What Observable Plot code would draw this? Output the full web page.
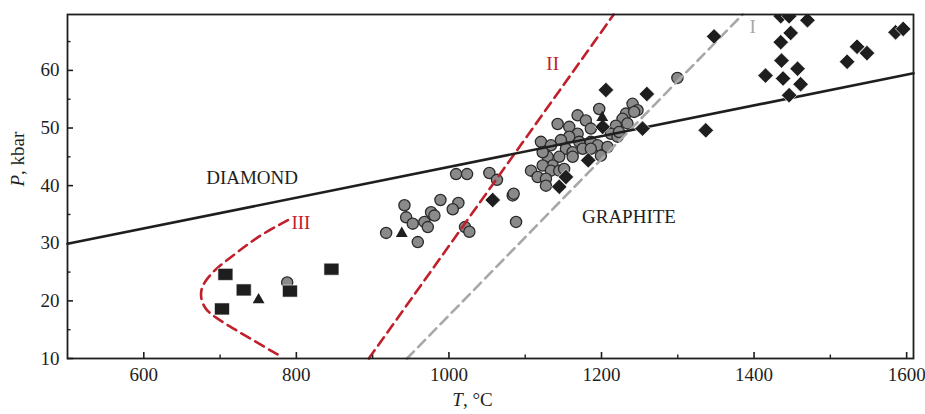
<!DOCTYPE html>
<html>
<head>
<meta charset="utf-8">
<script src="https://cdn.jsdelivr.net/npm/d3@7"></script>
<script src="https://cdn.jsdelivr.net/npm/@observablehq/plot@0.6"></script>
<style>
  html, body { margin: 0; padding: 0; background: #fff; }
  svg { font-family: "Liberation Serif", "DejaVu Serif", serif; }
</style>
</head>
<body>
<div id="chart"></div>
<script>
// ---- data ----
const xMajorTicks = [600, 800, 1000, 1200, 1400, 1600];
const xMinorTicks = [700, 900, 1100, 1300, 1500];
const yMajorTicks = [10, 20, 30, 40, 50, 60];
const yMinorTicks = [15, 25, 35, 45, 55, 65];

// diamond-graphite equilibrium line
const eqT = [500, 1609];
const eqP = [29.9, 59.5];

// dashed line I (grey)
const lineIT = [945, 1385];
const lineIP = [10, 69.7];
// dashed line II (red)
const lineIIT = [895, 1216];
const lineIIP = [10, 69.7];
// dashed curve III (red)
const curveIIIT = [789, 762.8, 736.6, 714.7, 697.3, 684.2, 675.5, 674.2, 679.8, 692.9, 714.7, 736.6, 758.3, 778];
const curveIIIP = [34, 32.2, 29.9, 27.6, 25.9, 24.1, 22.4, 20.6, 18.6, 17.2, 15.4, 13.7, 12, 10.5];

// grey circles
const circleT = [788, 1299.5,
  917.7, 941.7, 943.9, 952.6, 959.2, 988.9, 976.6, 981, 967.9, 972.3, 1012.4, 1005, 1021.1, 1026.8,
  1009.4, 1023.8, 1053, 1063, 1083.6, 1088, 1084.9,
  1197, 1168.7, 1179.5, 1142.5, 1157.7, 1186, 1240.7, 1247.2, 1232, 1227.6, 1218.9, 1212.3, 1221,
  1168.7, 1157.7, 1146.8, 1120.6, 1133.7, 1170.8, 1186, 1194.9, 1207.9, 1153.4, 1162.2, 1175.3, 1186,
  1144.6, 1129.4, 1136, 1162.2, 1122.9, 1122.9, 1133.7, 1107.6, 1116.3, 1127.2, 1127.2, 1144.6, 1151, 1199.2,
  1242.8, 1234, 1223];
const circleP = [23.2, 58.7,
  31.8, 36.6, 34.5, 33.4, 30.2, 37.5, 35.4, 34.8, 33.7, 32.8, 37, 35.9, 32.8, 32,
  42, 42, 42.2, 41, 38.3, 33.7, 38.6,
  53.3, 52.2, 51.3, 50.7, 50.2, 49.9, 54.2, 53.1, 52.5, 51.6, 50.4, 49, 48.5,
  49, 48.5, 47.9, 47.6, 47, 47.6, 47.6, 47, 46.7, 46.4, 45.8, 46.4, 46.4,
  45, 45, 43.5, 45, 45.8, 43.5, 42.6, 42.6, 41.5, 41.2, 40, 42.6, 42.9, 45.2,
  52.8, 50.8, 49.3];

// black diamonds
const diamondT = [1057.4, 1144.6, 1153.4, 1182.6, 1201.5, 1205.8, 1253.8, 1259.5, 1336.7, 1347.6,
  1415, 1435, 1436, 1438, 1446, 1448, 1457, 1461, 1435, 1446, 1470,
  1522, 1535, 1548, 1585.5, 1595.5];
const diamondP = [37.5, 39.8, 41.5, 44.4, 50.2, 56.6, 49.9, 55.9, 49.6, 65.9,
  59.1, 64.9, 61.7, 58.6, 55.7, 66.5, 60.3, 57.6, 69.4, 69.4, 68.7,
  61.5, 64.1, 63, 66.6, 67.2];

// black squares
const squareT = [707, 731, 702.5, 791.6, 846];
const squareP = [24.6, 21.9, 18.6, 21.7, 25.5];

// black triangles
const triangleT = [750.5, 938.2, 1201];
const triangleP = [20.2, 31.7, 51.8];

// annotations
const labelText = ["DIAMOND", "GRAPHITE"];
const labelT = [742, 1236];
const labelP = [41.4, 34.5];
const lineLabels = ["I", "II", "III"];
const lineLabelT = [1398, 1136, 806];
const lineLabelP = [67.5, 61.1, 33.6];

// ---- build rows ----
const zip = (a, b) => a.map((v, i) => ({T: v, P: b[i]}));
const eq = zip(eqT, eqP);
const lI = zip(lineIT, lineIP);
const lII = zip(lineIIT, lineIIP);
const cIII = zip(curveIIIT, curveIIIP);
const circles = zip(circleT, circleP);
const diamonds = zip(diamondT, diamondP);
const squares = zip(squareT, squareP);
const triangles = zip(triangleT, triangleP);
const labels = labelText.map((t, i) => ({t, T: labelT[i], P: labelP[i]}));
const lineLbls = lineLabels.map((t, i) => ({t, T: lineLabelT[i], P: lineLabelP[i]}));

const RED = "#c0202c";
const GREY = "#a8a8a8";
const INK = "#1e1e1e";
const FS = 19;
const fmt = d3.format("d");

const wideSquare = {
  draw(context, size) {
    const w = 7.5, h = 6;
    context.rect(-w, -h, 2 * w, 2 * h);
  }
};

const chart = Plot.plot({
  width: 925,
  height: 414,
  marginLeft: 67,
  marginRight: 12,
  marginTop: 14,
  marginBottom: 56,
  style: {fontFamily: "Liberation Serif, serif", fontSize: FS + "px", color: INK, background: "#fff", overflow: "visible"},
  x: {domain: [500, 1609], label: null},
  y: {domain: [10, 69.7], label: null},
  marks: [
    Plot.dot(circles, {x: "T", y: "P", r: 5.6, fill: "#8a8a8a", stroke: "#2a2a2a", strokeWidth: 1.3}),
    Plot.line(lI, {x: "T", y: "P", stroke: GREY, strokeWidth: 2.6, strokeDasharray: "10,6"}),
    Plot.line(lII, {x: "T", y: "P", stroke: RED, strokeWidth: 2.6, strokeDasharray: "10,6"}),
    Plot.line(cIII, {x: "T", y: "P", stroke: RED, strokeWidth: 2.6, strokeDasharray: "10,6", curve: "basis"}),
    Plot.line(eq, {x: "T", y: "P", stroke: INK, strokeWidth: 2.6}),
    Plot.dot(diamonds, {x: "T", y: "P", symbol: "diamond2", r: 7, fill: INK, stroke: "#fff", strokeWidth: 0.7, clip: true}),
    Plot.dot(squares, {x: "T", y: "P", symbol: wideSquare, fill: INK, stroke: "#fff", strokeWidth: 0.6}),
    Plot.dot(triangles, {x: "T", y: "P", symbol: "triangle", r: 4.4, fill: INK}),
    Plot.text(labels, {x: "T", y: "P", text: "t", fontSize: FS, fill: INK}),
    Plot.text(lineLbls, {x: "T", y: "P", text: "t", fontSize: FS, fill: (d) => d.t === "I" ? GREY : RED}),
    Plot.frame({stroke: INK, strokeWidth: 1.8}),
    // major and minor ticks (inward)
    Plot.axisX({ticks: xMajorTicks, tickSize: -6, tickFormat: () => "", label: null, stroke: INK, strokeWidth: 1.6}),
    Plot.axisX({ticks: xMinorTicks, tickSize: -3.5, tickFormat: () => "", label: null, stroke: INK, strokeWidth: 1.4}),
    Plot.axisX({ticks: xMajorTicks, tickSize: 0, tickPadding: 9, tickFormat: fmt, label: null, fontSize: FS, fill: INK}),
    Plot.axisY({ticks: yMajorTicks, tickSize: -6, tickFormat: () => "", label: null, stroke: INK, strokeWidth: 1.6}),
    Plot.axisY({ticks: yMinorTicks, tickSize: -3.5, tickFormat: () => "", label: null, stroke: INK, strokeWidth: 1.4}),
    Plot.axisY({ticks: yMajorTicks, tickSize: 0, tickPadding: 8, tickFormat: fmt, label: null, fontSize: FS, fill: INK}),
    // axis titles
    Plot.text(["T, °C"], {frameAnchor: "bottom", dx: -18, dy: 47, text: (d) => d, fontSize: FS, fill: INK, className: "xtitle"}),
    Plot.text(["P, kbar"], {frameAnchor: "left", dx: -50, rotate: -90, text: (d) => d, fontSize: FS, fill: INK, className: "ytitle"})
  ]
});

document.getElementById("chart").appendChild(chart);

// italicise the variable letters in the axis titles
function italicFirst(sel) {
  const t = chart.querySelector(sel + " text");
  if (!t) return;
  const s = t.textContent;
  t.textContent = "";
  const ns = "http://www.w3.org/2000/svg";
  const a = document.createElementNS(ns, "tspan");
  a.setAttribute("font-style", "italic");
  a.textContent = s[0];
  const b = document.createElementNS(ns, "tspan");
  b.textContent = s.slice(1);
  t.appendChild(a);
  t.appendChild(b);
}
italicFirst(".xtitle");
italicFirst(".ytitle");
</script>
</body>
</html>
